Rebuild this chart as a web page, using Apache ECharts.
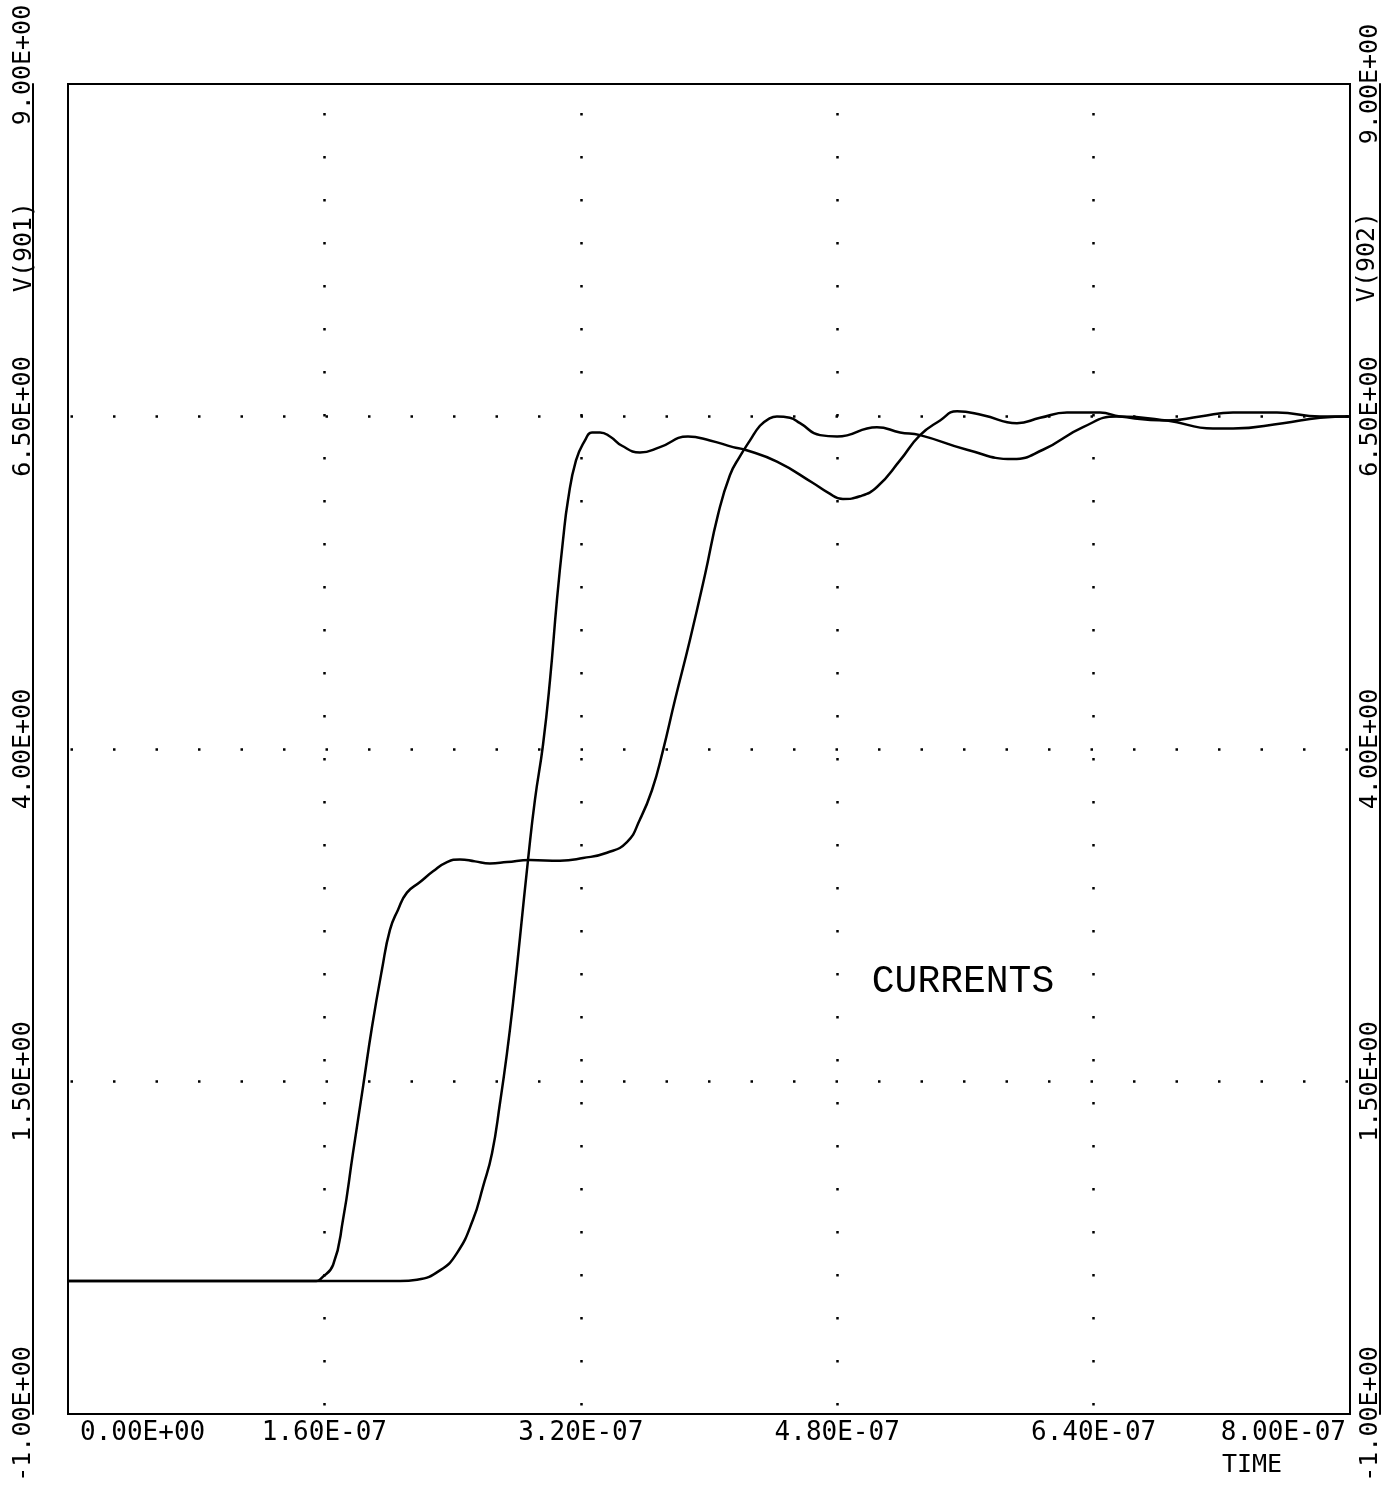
<!DOCTYPE html>
<html>
<head>
<meta charset="utf-8">
<script src="https://cdn.jsdelivr.net/npm/echarts@6/dist/echarts.min.js"></script>
<style>
html,body{margin:0;padding:0;background:#fff;}
#chart{width:1394px;height:1492px;}
</style>
</head>
<body>
<div id="chart"></div>
<script>
// TIME in nanoseconds, values in volts
const v901Time = [0, 155.0, 158.0, 165.4, 171.6, 177.8, 184.1, 189.7, 195.9, 200.9, 205.9, 211.5, 219.7, 227.8, 236.5, 244.6, 254.0, 263.3, 273.9, 288.3, 307.0, 321.4, 336.3, 348.8, 356.9, 364.4, 371.3, 378.8, 388.1, 397.5, 405.6, 413.1, 419.3, 425.6, 431.8, 437.0, 442.4, 450.5, 456.8, 469.3, 479.9, 504.8, 519.2, 531.7, 561.0, 589.7, 608.4, 633.4, 654.6, 685.8, 714.5, 727.0, 758.2, 781.3, 800];
const v901Values = [0, 0, 0.02, 0.12, 0.46, 0.96, 1.46, 1.91, 2.34, 2.64, 2.79, 2.92, 3.0, 3.08, 3.15, 3.17, 3.155, 3.14, 3.15, 3.165, 3.16, 3.18, 3.22, 3.30, 3.47, 3.69, 3.99, 4.37, 4.82, 5.31, 5.76, 6.06, 6.20, 6.32, 6.43, 6.48, 6.50, 6.49, 6.45, 6.36, 6.35, 6.42, 6.38, 6.36, 6.25, 6.18, 6.25, 6.42, 6.50, 6.47, 6.41, 6.41, 6.45, 6.49, 6.50];

const v902Time = [0, 207.2, 217.8, 232.1, 242.7, 252.7, 259.0, 264.6, 269.6, 273.9, 277.7, 282.1, 287.1, 291.4, 296.4, 300.8, 305.1, 308.9, 312.0, 317.0, 322.6, 327.0, 332.0, 338.2, 345.7, 356.9, 369.4, 386.9, 400.6, 415.0, 422.5, 442.4, 464.9, 474.0, 483.6, 494.2, 504.8, 519.2, 531.7, 544.2, 554.8, 571.0, 592.2, 606.6, 623.4, 644.0, 656.5, 685.8, 706.4, 727.0, 754.4, 781.3, 800];
const v902Values = [0, 0, 0.01, 0.08, 0.21, 0.46, 0.71, 0.96, 1.34, 1.71, 2.09, 2.59, 3.17, 3.62, 4.03, 4.52, 5.12, 5.57, 5.87, 6.17, 6.32, 6.38, 6.38, 6.35, 6.28, 6.23, 6.27, 6.35, 6.32, 6.27, 6.25, 6.16, 6.0, 5.93, 5.88, 5.90, 5.97, 6.17, 6.36, 6.47, 6.54, 6.51, 6.45, 6.49, 6.53, 6.53, 6.50, 6.47, 6.50, 6.53, 6.53, 6.50, 6.50];

const xTickValues = [0, 160, 320, 480, 640, 800];
const xTickLabels = ['0.00E+00', '1.60E-07', '3.20E-07', '4.80E-07', '6.40E-07', '8.00E-07'];
const yTickValues = [-1, 1.5, 4, 6.5, 9];
const yTickLabels = ['-1.00E+00', '1.50E+00', '4.00E+00', '6.50E+00', '9.00E+00'];

const leftAxisName = 'V(901)';
const rightAxisName = 'V(902)';
const xAxisName = 'TIME';
const chartLabel = 'CURRENTS';

const FONT = 'DejaVu Sans Mono';

function lookupIndex(vals, v) {
  for (let i = 0; i < vals.length; i++) if (Math.abs(vals[i] - v) < 1e-6) return i;
  return -1;
}
function zip(a, b) { return a.map((t, i) => [t, b[i]]); }

const chart = echarts.init(document.getElementById('chart'), null, {renderer: 'canvas'});

function yAxisBase(shiftTop) {
  return {
    type: 'value', min: -1, max: 9, interval: 2.5,
    axisLine: {show: true, onZero: false, lineStyle: {color: '#000', width: 2}},
    axisTick: {show: false},
    axisLabel: {
      rotate: 90, color: '#000', fontFamily: FONT, fontSize: 25, margin: -3,
      formatter: v => {
        const i = lookupIndex(yTickValues, v);
        if (i < 0) return '';
        if (shiftTop && i === yTickValues.length - 1) return '{top|' + yTickLabels[i] + '}';
        return yTickLabels[i];
      },
      rich: {top: {fontFamily: FONT, fontSize: 25, color: '#000', padding: [0, 0, 0, 38]}}
    }
  };
}

chart.setOption({
  animation: false,
  backgroundColor: '#fff',
  grid: {left: 68, top: 84, width: 1282, height: 1330, show: true, borderColor: '#000', borderWidth: 2, containLabel: false},
  xAxis: {
    type: 'value', min: 0, max: 800, interval: 160,
    axisLine: {show: true, onZero: false, lineStyle: {color: '#000', width: 2}},
    axisTick: {show: false},
    axisLabel: {
      color: '#000', fontFamily: FONT, fontSize: 26, margin: 6,
      alignMinLabel: 'left', alignMaxLabel: 'right',
      formatter: v => {
        const i = lookupIndex(xTickValues, v);
        if (i < 0) return '';
        if (i === 0) return '{first|' + xTickLabels[i] + '}';
        if (i === xTickValues.length - 1) return '{last|' + xTickLabels[i] + '}';
        return xTickLabels[i];
      },
      rich: {
        first: {fontFamily: FONT, fontSize: 26, color: '#000', padding: [0, 0, 0, 12]},
        last: {fontFamily: FONT, fontSize: 26, color: '#000', padding: [0, 4, 0, 0]}
      }
    },
    splitLine: {show: true, showMinLine: false, showMaxLine: false,
      lineStyle: {color: '#000', width: 2.5, type: [2.5, 40.5], dashOffset: 14}}
  },
  yAxis: [
    Object.assign(yAxisBase(true), {
      position: 'left', offset: 35,
      splitLine: {show: true, showMinLine: false, showMaxLine: false,
        lineStyle: {color: '#000', width: 2.5, type: [2.5, 40], dashOffset: 40}}
    }),
    (function () {
      const a = yAxisBase(false);
      a.position = 'right';
      a.offset = 30;
      a.axisLabel.inside = true;
      a.splitLine = {show: false};
      return a;
    })()
  ],
  graphic: [
    {type: 'text', x: 24, y: 247, rotation: Math.PI / 2,
     style: {text: leftAxisName, fill: '#000', font: '25px "' + FONT + '"', textAlign: 'center', textVerticalAlign: 'middle'}},
    {type: 'text', x: 1367, y: 257, rotation: Math.PI / 2,
     style: {text: rightAxisName, fill: '#000', font: '25px "' + FONT + '"', textAlign: 'center', textVerticalAlign: 'middle'}},
    {type: 'text', x: 1252, y: 1465,
     style: {text: xAxisName, fill: '#000', font: '25px "' + FONT + '"', textAlign: 'center', textVerticalAlign: 'middle'}},
    {type: 'text', x: 963, y: 982,
     style: {text: chartLabel, fill: '#000', font: '38px "Liberation Mono"', textAlign: 'center', textVerticalAlign: 'middle'}}
  ],
  series: [
    {name: leftAxisName, type: 'line', yAxisIndex: 0, data: zip(v901Time, v901Values), showSymbol: false,
     smooth: 0.5, lineStyle: {color: '#000', width: 2.5}},
    {name: rightAxisName, type: 'line', yAxisIndex: 1, data: zip(v902Time, v902Values), showSymbol: false,
     smooth: 0.5, lineStyle: {color: '#000', width: 2.5}}
  ]
});
</script>
</body>
</html>
